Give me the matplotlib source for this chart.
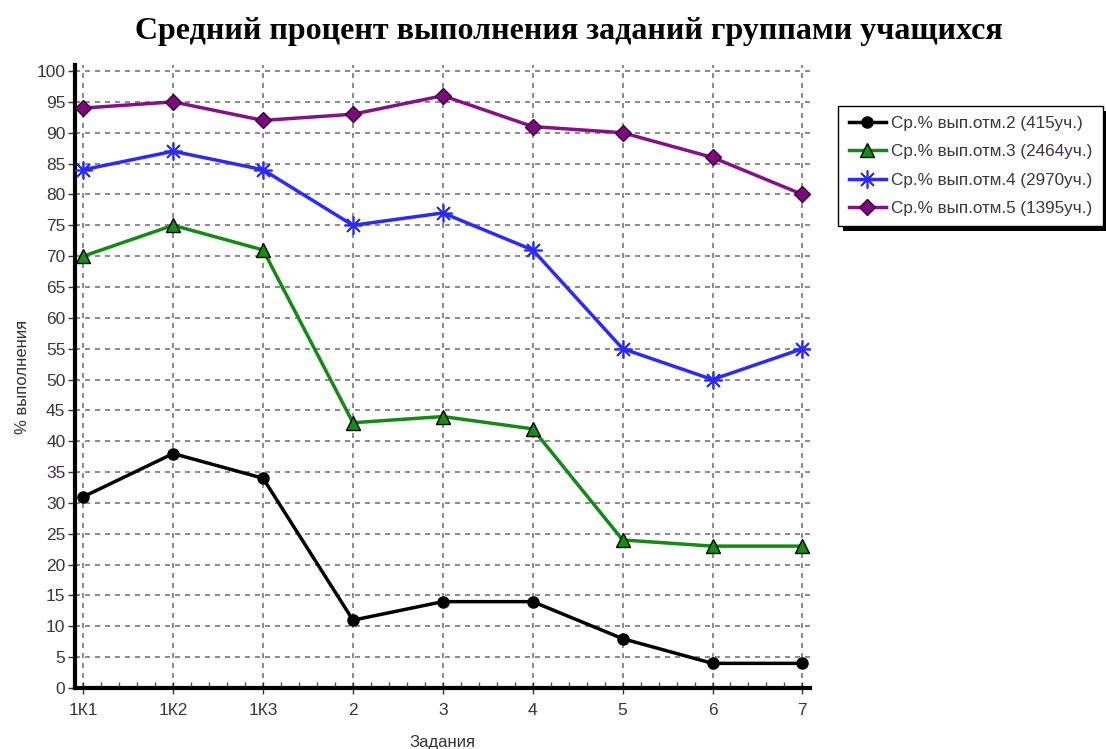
import matplotlib
matplotlib.use("Agg")
import matplotlib.pyplot as plt
from matplotlib.ticker import MultipleLocator, AutoMinorLocator
from matplotlib.patches import Rectangle

categories = ["1К1", "1К2", "1К3", "2", "3", "4", "5", "6", "7"]
grade2 = [31, 38, 34, 11, 14, 14, 8, 4, 4]
grade3 = [70, 75, 71, 43, 44, 42, 24, 23, 23]
grade4 = [84, 87, 84, 75, 77, 71, 55, 50, 55]
grade5 = [94, 95, 92, 93, 96, 91, 90, 86, 80]
labels = ["Ср.% вып.отм.2 (415уч.)", "Ср.% вып.отм.3 (2464уч.)",
          "Ср.% вып.отм.4 (2970уч.)", "Ср.% вып.отм.5 (1395уч.)"]

plt.rcParams['font.family'] = ['Liberation Sans', 'DejaVu Sans']

fig = plt.figure(figsize=(11.06, 7.49), dpi=100)
ax = fig.add_axes([0.068, 0.0814, 0.664, 0.832])

x = list(range(len(categories)))
ax.plot(x, grade2, color='black', lw=2.5, marker='o', ms=8, mfc='black', mec='black', label=labels[0], zorder=3)
ax.plot(x, grade3, color='#138a13', lw=2.5, marker='^', ms=10, mfc='#139013', mec='black', mew=1, label=labels[1], zorder=3)
ax.plot(x, grade4, color='#2a2aff', lw=2.5, marker=(8, 2, 0), ms=13, mec='#2a2aff', mew=1.2, label=labels[2], zorder=3)
ax.plot(x, grade5, color='#86108a', lw=2.5, marker='D', ms=8, mfc='#7a0a7e', mec='#3a003a', mew=1, label=labels[3], zorder=3)

ax.set_xlim(-0.09, 8.08)
ax.set_ylim(0, 101)
ax.set_xticks(x)
ax.set_xticklabels(categories)
ax.xaxis.set_minor_locator(AutoMinorLocator(5))
ax.yaxis.set_major_locator(MultipleLocator(5))

ax.grid(True, which='major', linestyle=(0, (3, 3)), color='#777777', lw=1.2)
for s in ['top', 'right']:
    ax.spines[s].set_visible(False)
for s in ['left', 'bottom']:
    ax.spines[s].set_linewidth(3)
    ax.spines[s].set_color('black')

ax.tick_params(axis='both', which='major', labelsize=12.5, colors='#333333', labelcolor='#3a3540')
ax.tick_params(axis='x', which='major', direction='inout', length=8, width=1, pad=7)
ax.tick_params(axis='x', which='minor', direction='in', length=4, width=1, colors='#555555')
ax.tick_params(axis='y', which='major', direction='out', length=5, width=1, pad=2)

ax.set_xlabel("Задания", fontsize=12, color='#333333', labelpad=12)
ax.set_ylabel("% выполнения", fontsize=12, color='#333333', labelpad=5)

fig.text(0.514, 0.958, "Средний процент выполнения заданий группами учащихся",
         ha='center', va='center', fontsize=23, fontweight='bold',
         family=['Liberation Serif', 'DejaVu Serif'])

leg = ax.legend(loc='upper left', bbox_to_anchor=(0.758, 0.859), bbox_transform=fig.transFigure,
                fancybox=False, edgecolor='black', framealpha=1, fontsize=12.3,
                handlelength=2.2, borderpad=0.6, labelspacing=0.78, handletextpad=0.3,
                borderaxespad=0)
leg.get_frame().set_linewidth(1)
for t in leg.get_texts():
    t.set_color('#3a3540')

fig.canvas.draw()
bb = leg.get_window_extent().transformed(fig.transFigure.inverted())
dx, dy = 5 / 1106, 5 / 749
fig.patches.append(Rectangle((bb.x0 + dx, bb.y0 - dy), bb.width, bb.height,
                             transform=fig.transFigure, facecolor='black',
                             edgecolor='none', zorder=-1))

fig.savefig("out.png", dpi=100)
